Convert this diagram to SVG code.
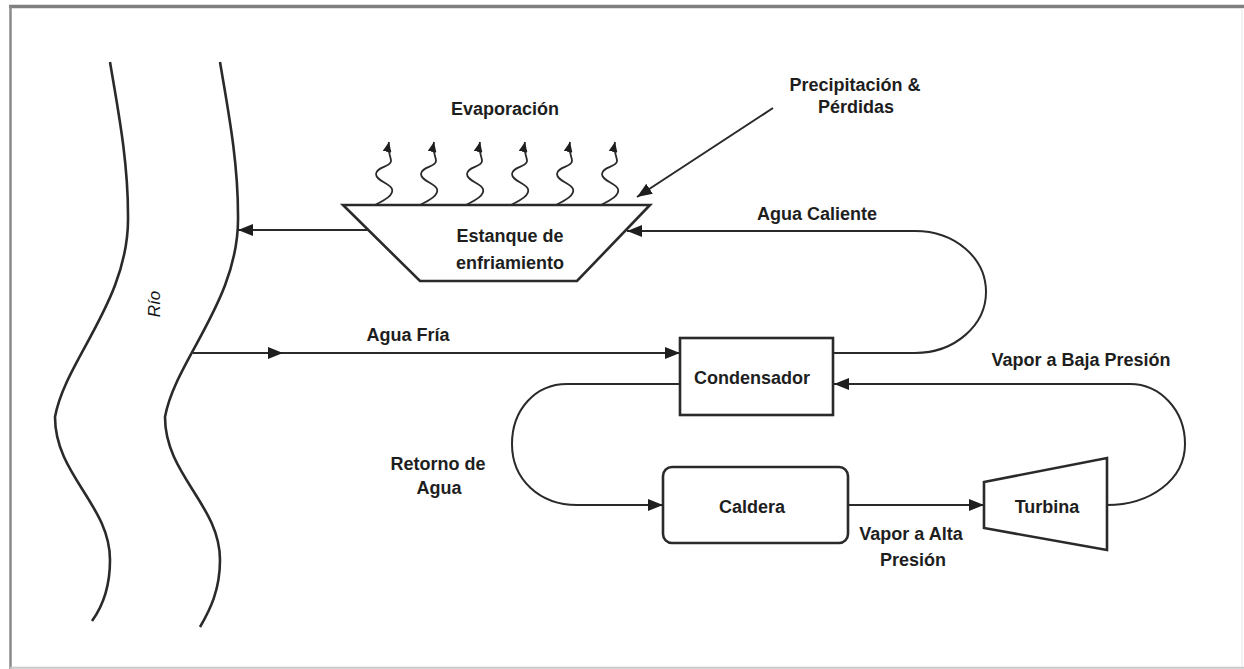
<svg xmlns="http://www.w3.org/2000/svg" width="1244" height="669" viewBox="0 0 1244 669">
<style>
.ln{fill:none;stroke:#2a2a2a;stroke-width:2}
.nd{fill:#fff;stroke:#2a2a2a;stroke-width:2.6}
.rv{fill:none;stroke:#2a2a2a;stroke-width:2.6}
.sq{fill:none;stroke:#2a2a2a;stroke-width:1.8}
.t{font-family:"Liberation Sans",Arial,sans-serif;font-weight:bold;font-size:18px;fill:#1e1e1e;text-anchor:middle}
.ti{font-family:"Liberation Sans",Arial,sans-serif;font-style:italic;font-size:17px;fill:#111;text-anchor:middle}
</style>
<defs>
<marker id="arr" markerUnits="userSpaceOnUse" markerWidth="15" markerHeight="12" refX="15" refY="6" orient="auto"><path d="M0,0 L15,6 L0,12 z" fill="#1e1e1e"/></marker>
<marker id="arrs" markerUnits="userSpaceOnUse" markerWidth="10" markerHeight="9" refX="10" refY="4.5" orient="auto"><path d="M0,0 L10,4.5 L0,9 z" fill="#1e1e1e"/></marker>
<path id="squig" d="M0,0 C10,-5 19,-10 17,-16 C15,-22 1,-24 1,-31 C1,-38 16,-38 16,-44 C16,-49 12,-53 14,-63"/>
</defs>
<rect width="1244" height="669" fill="#fff"/>
<g id="frame">
<line x1="9" y1="6.5" x2="1244" y2="6.5" stroke="#7f7f7f" stroke-width="3.5"/>
<line x1="10.5" y1="6" x2="10.5" y2="669" stroke="#8a8a8a" stroke-width="2.5"/>
<line x1="10" y1="667.8" x2="1244" y2="667.8" stroke="#c8c8c8" stroke-width="2"/>
<line x1="1242" y1="8" x2="1242" y2="667" stroke="#eeeeee" stroke-width="1.5"/>
</g>
<g id="river">
<path class="rv" d="M110,62 C118,110 128,160 128,215 C130,300 65,360 55,417 C55,475 110,505 110,560 C110,590 100,610 92,621"/>
<path class="rv" d="M220,62 C228,110 238,160 238,215 C240,300 175,360 165,417 C165,475 220,505 220,560 C220,590 210,610 200,627"/>
<text class="ti" transform="translate(160,304) rotate(-90)">Río</text>
</g>
<g id="pond">
<polygon class="nd" points="343,205 650,205 577,281 420,281"/>
<text class="t" x="510" y="242">Estanque de</text>
<text class="t" x="510" y="269">enfriamiento</text>
</g>
<g id="evaporation">
<use href="#squig" class="sq" x="375" y="205" marker-end="url(#arrs)"/>
<use href="#squig" class="sq" x="420" y="205" marker-end="url(#arrs)"/>
<use href="#squig" class="sq" x="466" y="205" marker-end="url(#arrs)"/>
<use href="#squig" class="sq" x="511" y="205" marker-end="url(#arrs)"/>
<use href="#squig" class="sq" x="556" y="205" marker-end="url(#arrs)"/>
<use href="#squig" class="sq" x="601" y="205" marker-end="url(#arrs)"/>
<text class="t" x="505" y="115">Evaporación</text>
</g>
<g id="condenser">
<rect class="nd" x="680" y="338" width="153" height="77"/>
<text class="t" x="752" y="384">Condensador</text>
</g>
<g id="boiler">
<rect class="nd" x="663" y="467" width="185" height="76" rx="9" ry="9" stroke-width="3"/>
<text class="t" x="752" y="513">Caldera</text>
</g>
<g id="turbine">
<polygon class="nd" points="984,482 1107,458 1107,550 984,528"/>
<text class="t" x="1047" y="513">Turbina</text>
</g>
<g id="connectors">
<line class="ln" x1="773" y1="108" x2="637" y2="197" marker-end="url(#arr)"/>
<line class="ln" x1="368" y1="230" x2="238" y2="230" marker-end="url(#arr)"/>
<path class="ln" d="M833,353 H915 C955,353 986,325 986,292 C986,258 955,231 915,231 H627" marker-end="url(#arr)"/>
<path class="ln" d="M193,353 L283,353 L680,353" marker-mid="url(#arr)" marker-end="url(#arr)"/>
<path class="ln" d="M1107,505 C1150,505 1185,480 1185,444 C1185,410 1160,384 1130,384 H834" marker-end="url(#arr)"/>
<path class="ln" d="M680,384 H567 C535,384 512,410 512,444 C512,480 540,505 577,505 H663" marker-end="url(#arr)"/>
<line class="ln" x1="848" y1="505" x2="984" y2="505" marker-end="url(#arr)"/>
</g>
<g id="labels">
<text class="t" x="855" y="91">Precipitación &amp;</text>
<text class="t" x="856" y="113">Pérdidas</text>
<text class="t" x="817" y="220">Agua Caliente</text>
<text class="t" x="408" y="341">Agua Fría</text>
<text class="t" x="1081" y="366">Vapor a Baja Presión</text>
<text class="t" x="438" y="470">Retorno de</text>
<text class="t" x="439" y="494">Agua</text>
<text class="t" x="911" y="540">Vapor a Alta</text>
<text class="t" x="913" y="566">Presión</text>
</g>
</svg>
